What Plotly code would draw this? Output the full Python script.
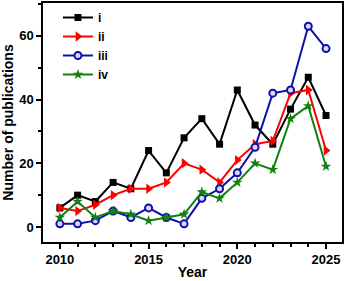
import plotly.graph_objects as go

years = list(range(2010, 2026))
series_i = [6, 10, 8, 14, 12, 24, 17, 28, 34, 26, 43, 32, 26, 37, 47, 35]
series_ii = [6, 5, 7, 10, 12, 12, 14, 20, 18, 14, 21, 26, 27, 42, 43, 24]
series_iii = [1, 1, 2, 5, 3, 6, 3, 1, 9, 12, 17, 25, 42, 43, 63, 56]
series_iv = [3, 8, 3, 5, 4, 2, 3, 4, 11, 9, 14, 20, 18, 34, 38, 19]
names = ["i", "ii", "iii", "iv"]

FONT = "Liberation Sans, Arial, sans-serif"

fig = go.Figure()
fig.add_trace(go.Scatter(x=years, y=series_i, name="<b>" + names[0] + "</b>", mode="lines+markers",
                         line=dict(color="black", width=2),
                         marker=dict(symbol="square", size=7, color="black")))
fig.add_trace(go.Scatter(x=years, y=series_ii, name="<b>" + names[1] + "</b>", mode="lines+markers",
                         line=dict(color="#ff0000", width=2),
                         marker=dict(symbol="triangle-right", size=9, color="#ff0000")))
fig.add_trace(go.Scatter(x=years, y=series_iii, name="<b>" + names[2] + "</b>", mode="lines+markers",
                         line=dict(color="#1010a8", width=2),
                         marker=dict(symbol="circle", size=7, color="#d8d8ff",
                                     line=dict(color="#1010a8", width=2))))
fig.add_trace(go.Scatter(x=years, y=series_iv, name="<b>" + names[3] + "</b>", mode="lines+markers",
                         line=dict(color="#108010", width=2),
                         marker=dict(symbol="star", size=8, color="#108010")))

fig.update_layout(
    width=345, height=281,
    margin=dict(l=43, r=3, t=3, b=39, autoexpand=False),
    paper_bgcolor="white", plot_bgcolor="white",
    font=dict(family=FONT, size=12, color="black"),
    showlegend=True,
    legend=dict(x=0.05, y=1.0, xanchor="left", yanchor="top",
                bgcolor="rgba(0,0,0,0)", font=dict(size=12, family=FONT),
                tracegroupgap=0, itemwidth=30),
)
fig.update_xaxes(
    range=[2009.05, 2025.9], tickmode="array", tickvals=[2010, 2015, 2020, 2025],
    ticktext=["<b>2010</b>", "<b>2015</b>", "<b>2020</b>", "<b>2025</b>"],
    ticks="outside", ticklen=5, tickwidth=1.5, tickcolor="black",
    minor=dict(dtick=1, tick0=2010, ticks="outside", ticklen=3, tickcolor="black", showgrid=False),
    showline=True, linecolor="black", linewidth=1.5, mirror=True,
    showgrid=False, zeroline=False,
    title=dict(text="<b>Year</b>", font=dict(size=14, family=FONT), standoff=1),
    tickfont=dict(size=13, family=FONT),
)
fig.update_yaxes(
    range=[-4.7, 70.3], tickmode="array", tickvals=[0, 20, 40, 60],
    ticktext=["<b>0</b>", "<b>20</b>", "<b>40</b>", "<b>60</b>"],
    ticks="outside", ticklen=5, tickwidth=1.5, tickcolor="black",
    minor=dict(dtick=10, tick0=0, ticks="outside", ticklen=3, tickcolor="black", showgrid=False),
    showline=True, linecolor="black", linewidth=1.5, mirror=True,
    showgrid=False, zeroline=False,
    title=dict(text="<b>Number of publications</b>", font=dict(size=14, family=FONT), standoff=7),
    tickfont=dict(size=13, family=FONT),
)
fig.write_html("out.html", config={"displayModeBar": False},
               post_script="document.body.style.margin='0';document.body.style.padding='0';")
